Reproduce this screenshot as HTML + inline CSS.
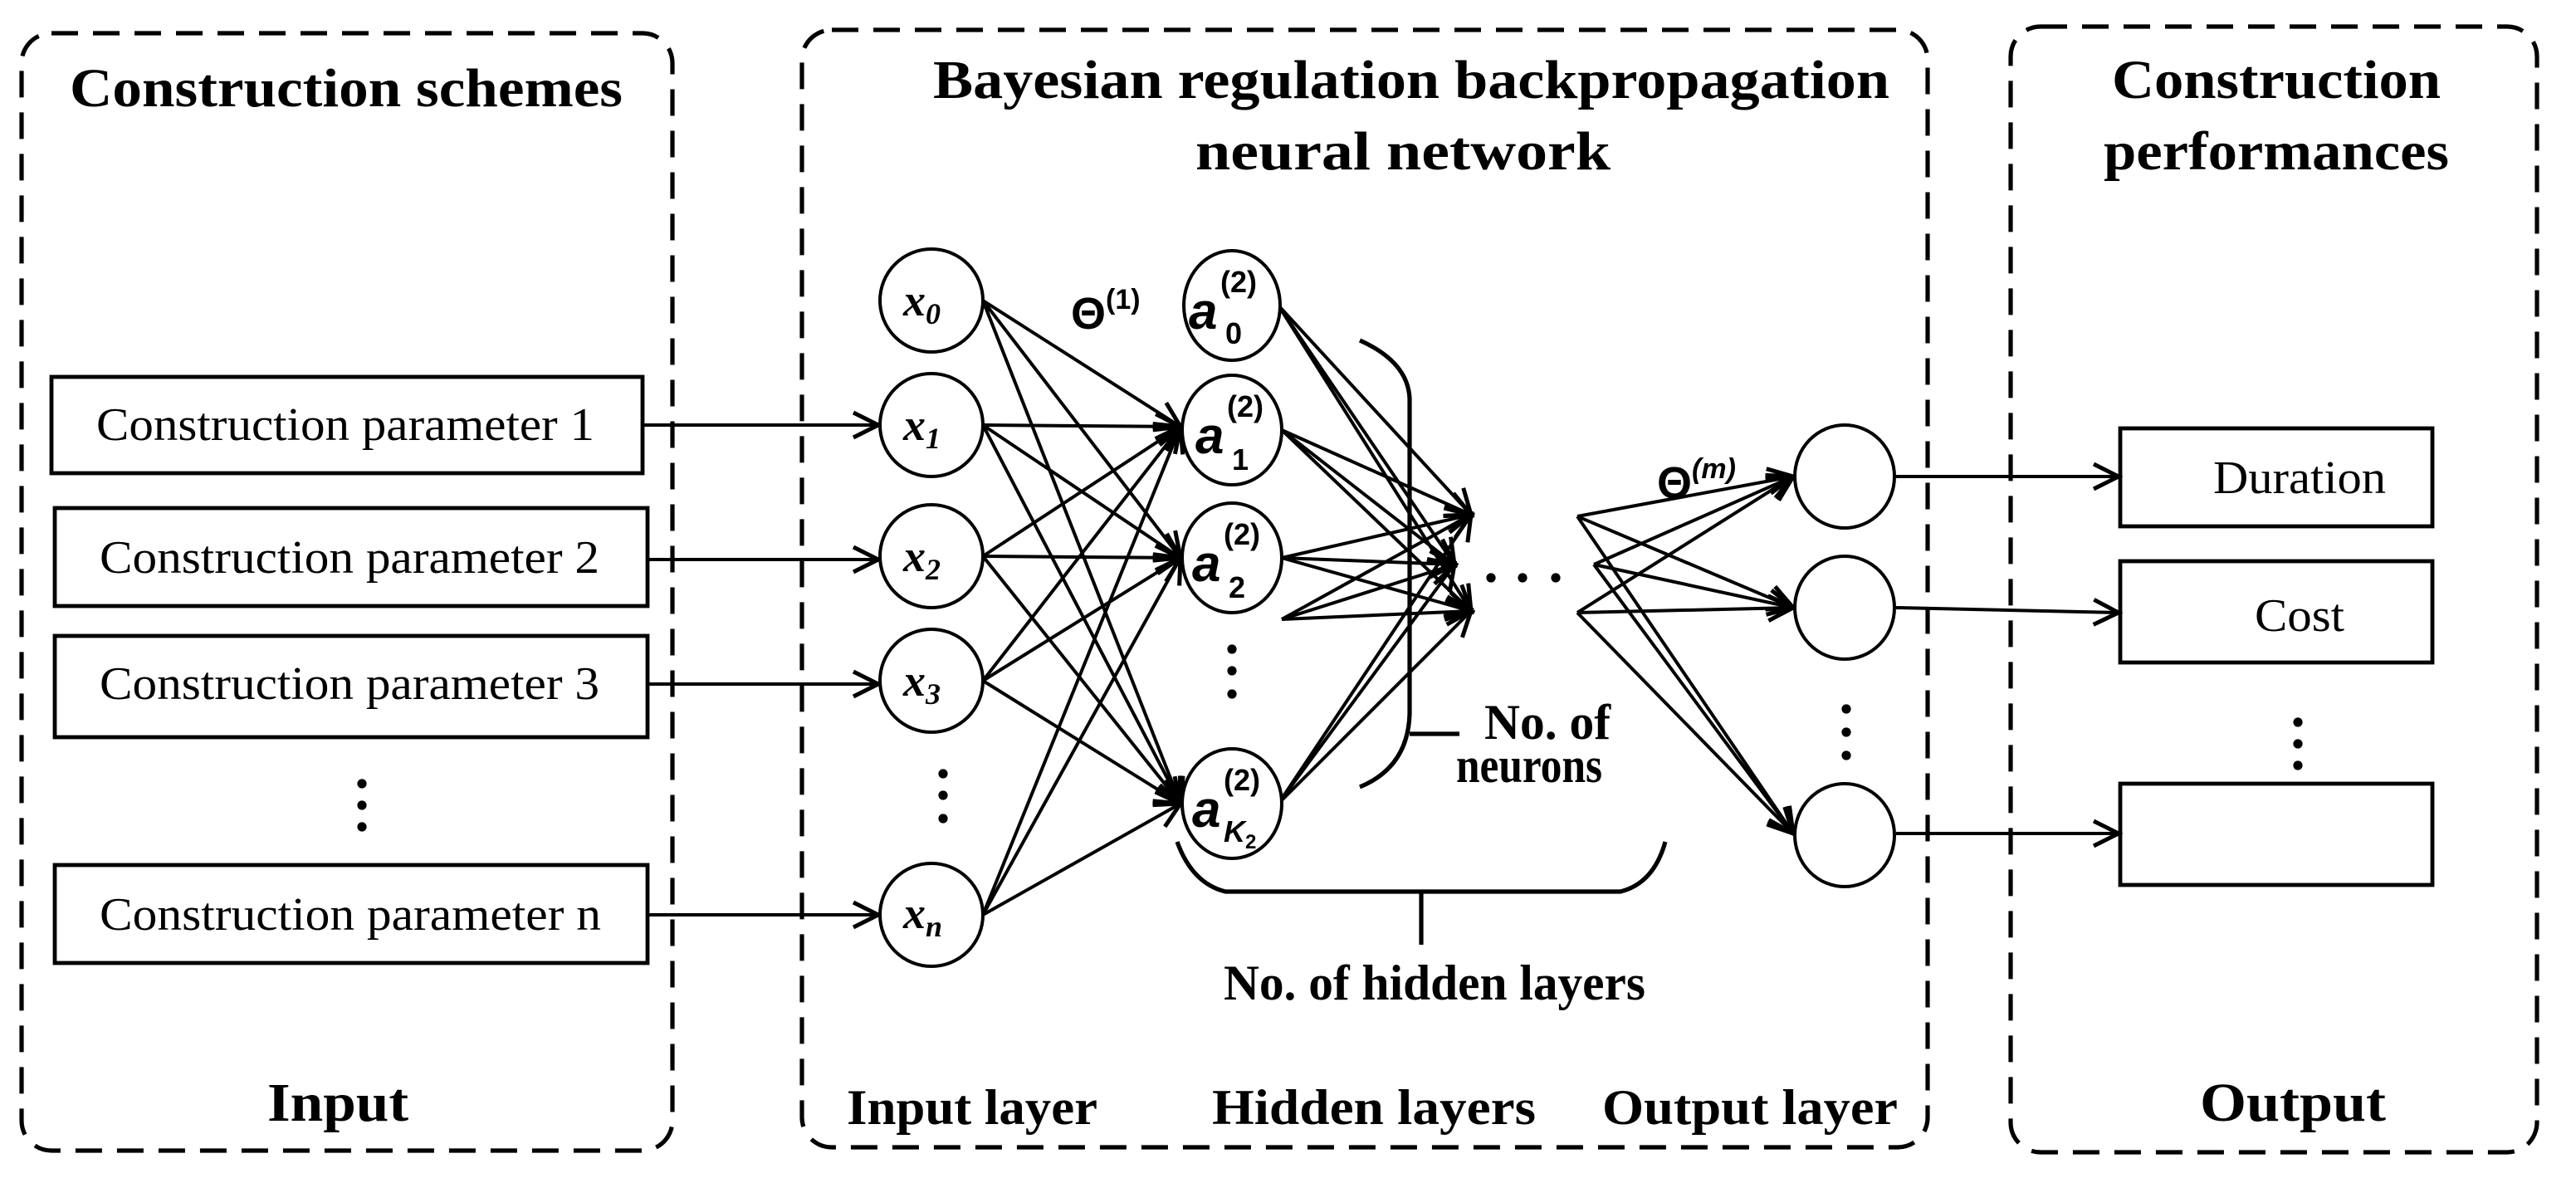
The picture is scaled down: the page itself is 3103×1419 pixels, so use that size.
<!DOCTYPE html>
<html><head><meta charset="utf-8"><style>
html,body{margin:0;padding:0;background:#fff;}
svg{display:block;}
text{fill:#000;}
.t{font-family:"Liberation Serif",serif;font-weight:bold;}
.r{font-family:"Liberation Serif",serif;}
.s{font-family:"Liberation Sans",sans-serif;font-weight:bold;}
</style></head><body>
<svg width="3103" height="1419" viewBox="0 0 1551.5 709.5" xmlns="http://www.w3.org/2000/svg">
<defs>
<marker id="ah" markerUnits="userSpaceOnUse" markerWidth="20" markerHeight="20" refX="14" refY="8" orient="auto" viewBox="0 0 16 16">
<path d="M2,2 L14,8 L2,14" fill="none" stroke="#000" stroke-width="2"/>
</marker>
</defs>
<rect width="1551.5" height="709.5" fill="#fff"/>
<g fill="none" stroke="#000" stroke-width="2.6" stroke-dasharray="16,9">
<rect x="13" y="20" width="392" height="673" rx="18"/>
<rect x="483" y="18" width="678" height="673" rx="18"/>
<rect x="1211" y="16" width="317" height="678" rx="18"/>
</g>
<text class="t" x="42" y="64" font-size="33" textLength="333" lengthAdjust="spacingAndGlyphs">Construction schemes</text>
<text class="t" x="562" y="59" font-size="33" textLength="576" lengthAdjust="spacingAndGlyphs">Bayesian regulation backpropagation</text>
<text class="t" x="720" y="102" font-size="33" textLength="250" lengthAdjust="spacingAndGlyphs">neural network</text>
<text class="t" x="1272" y="59" font-size="33" textLength="198" lengthAdjust="spacingAndGlyphs">Construction</text>
<text class="t" x="1267" y="102" font-size="33" textLength="208" lengthAdjust="spacingAndGlyphs">performances</text>
<g fill="none" stroke="#000" stroke-width="2.4">
<rect x="31" y="227" width="356" height="58"/>
<rect x="33" y="306" width="357" height="59"/>
<rect x="33" y="383" width="357" height="61"/>
<rect x="33" y="521" width="357" height="59"/>
<rect x="1277" y="258" width="188" height="59"/>
<rect x="1277" y="338" width="188" height="61"/>
<rect x="1277" y="472" width="188" height="61"/>
</g>
<g class="r" font-size="28">
<text x="58" y="265" textLength="300" lengthAdjust="spacingAndGlyphs">Construction parameter 1</text>
<text x="60" y="345" textLength="301" lengthAdjust="spacingAndGlyphs">Construction parameter 2</text>
<text x="60" y="421" textLength="301" lengthAdjust="spacingAndGlyphs">Construction parameter 3</text>
<text x="60" y="560" textLength="302" lengthAdjust="spacingAndGlyphs">Construction parameter n</text>
<text x="1333" y="297" textLength="104" lengthAdjust="spacingAndGlyphs">Duration</text>
<text x="1358" y="380" textLength="54" lengthAdjust="spacingAndGlyphs">Cost</text>
</g>
<g fill="#000">
<circle cx="218" cy="472" r="2.8"/><circle cx="218" cy="485" r="2.8"/><circle cx="218" cy="498" r="2.8"/>
<circle cx="568" cy="466" r="2.8"/><circle cx="568" cy="479" r="2.8"/><circle cx="568" cy="493" r="2.8"/>
<circle cx="742" cy="391" r="2.8"/><circle cx="742" cy="404" r="2.8"/><circle cx="742" cy="418" r="2.8"/>
<circle cx="898" cy="348" r="2.8"/><circle cx="917" cy="348" r="2.8"/><circle cx="937" cy="348" r="2.8"/>
<circle cx="1112" cy="427" r="2.8"/><circle cx="1112" cy="441" r="2.8"/><circle cx="1112" cy="455" r="2.8"/>
<circle cx="1384" cy="435" r="2.8"/><circle cx="1384" cy="448" r="2.8"/><circle cx="1384" cy="461" r="2.8"/>
</g>
<g stroke="#000" stroke-width="2" fill="none" marker-end="url(#ah)">
<line x1="387" y1="256" x2="529" y2="256"/>
<line x1="390" y1="337" x2="529" y2="337"/>
<line x1="390" y1="412" x2="529" y2="412"/>
<line x1="390" y1="551" x2="529" y2="551"/>
<line x1="1142" y1="287" x2="1276" y2="287"/>
<line x1="1142" y1="366" x2="1276" y2="369"/>
<line x1="1142" y1="502" x2="1276" y2="502"/>
<line x1="592" y1="181" x2="711" y2="257"/><line x1="592" y1="181" x2="711" y2="336"/><line x1="592" y1="181" x2="711" y2="484"/>
<line x1="592" y1="256" x2="711" y2="257"/><line x1="592" y1="256" x2="711" y2="336"/><line x1="592" y1="256" x2="711" y2="484"/>
<line x1="592" y1="335" x2="711" y2="257"/><line x1="592" y1="335" x2="711" y2="336"/><line x1="592" y1="335" x2="711" y2="484"/>
<line x1="592" y1="410" x2="711" y2="257"/><line x1="592" y1="410" x2="711" y2="336"/><line x1="592" y1="410" x2="711" y2="484"/>
<line x1="592" y1="551" x2="711" y2="257"/><line x1="592" y1="551" x2="711" y2="336"/><line x1="592" y1="551" x2="711" y2="484"/>
<line x1="770" y1="184" x2="886" y2="310"/><line x1="770" y1="184" x2="876" y2="340"/><line x1="770" y1="184" x2="886" y2="368"/>
<line x1="772" y1="259" x2="886" y2="310"/><line x1="772" y1="259" x2="876" y2="340"/><line x1="772" y1="259" x2="886" y2="368"/>
<line x1="772" y1="336" x2="886" y2="310"/><line x1="772" y1="336" x2="876" y2="340"/><line x1="772" y1="336" x2="886" y2="368"/>
<line x1="772" y1="373" x2="886" y2="310"/><line x1="772" y1="373" x2="876" y2="340"/><line x1="772" y1="373" x2="886" y2="368"/>
<line x1="770" y1="484" x2="886" y2="310"/><line x1="770" y1="484" x2="876" y2="340"/><line x1="770" y1="484" x2="886" y2="368"/>
<line x1="950" y1="311" x2="1080" y2="287"/><line x1="950" y1="311" x2="1080" y2="366"/><line x1="950" y1="311" x2="1080" y2="502"/>
<line x1="960" y1="340" x2="1080" y2="287"/><line x1="960" y1="340" x2="1080" y2="366"/><line x1="960" y1="340" x2="1080" y2="502"/>
<line x1="950" y1="369" x2="1080" y2="287"/><line x1="950" y1="369" x2="1080" y2="366"/><line x1="950" y1="369" x2="1080" y2="502"/>
</g>
<g fill="#fff" stroke="#000" stroke-width="2">
<ellipse cx="561" cy="181" rx="31" ry="31"/>
<ellipse cx="561" cy="256" rx="31" ry="31"/>
<ellipse cx="561" cy="335" rx="31" ry="31"/>
<ellipse cx="561" cy="410" rx="31" ry="31"/>
<ellipse cx="561" cy="551" rx="31" ry="31"/>
<ellipse cx="742" cy="184" rx="29" ry="33"/>
<ellipse cx="742" cy="259" rx="30" ry="33"/>
<ellipse cx="742" cy="336" rx="30" ry="33"/>
<ellipse cx="742" cy="484" rx="30" ry="33"/>
<ellipse cx="1111" cy="287" rx="30" ry="31"/>
<ellipse cx="1111" cy="366" rx="30" ry="31"/>
<ellipse cx="1111" cy="503" rx="30" ry="31"/>
</g>
<g font-family="Liberation Serif,serif" font-style="italic" font-weight="bold" font-size="27">
<text x="544" y="190">x<tspan font-size="18" dy="5">0</tspan></text>
<text x="544" y="265">x<tspan font-size="18" dy="5">1</tspan></text>
<text x="544" y="344">x<tspan font-size="18" dy="5">2</tspan></text>
<text x="544" y="419">x<tspan font-size="18" dy="5">3</tspan></text>
<text x="544" y="559">x<tspan font-size="18" dy="5">n</tspan></text>
</g>
<g class="s" font-size="31" font-style="italic">
<text x="716" y="198">a</text><text x="735" y="176" font-size="18" font-style="normal">(2)</text><text x="738" y="207" font-size="18" font-style="normal">0</text>
<text x="720" y="273">a</text><text x="739" y="251" font-size="18" font-style="normal">(2)</text><text x="742" y="283" font-size="18" font-style="normal">1</text>
<text x="718" y="350">a</text><text x="737" y="328" font-size="18" font-style="normal">(2)</text><text x="740" y="360" font-size="18" font-style="normal">2</text>
<text x="718" y="498">a</text><text x="737" y="476" font-size="18" font-style="normal">(2)</text><text x="737" y="507" font-size="18">K<tspan font-size="12" font-style="normal" dy="4">2</tspan></text>
</g>
<text class="s" x="645" y="198" font-size="27">Θ<tspan font-size="17" dy="-12">(1)</tspan></text>
<text class="s" x="998" y="300" font-size="27">Θ<tspan font-size="17" dy="-12" font-style="italic">(m)</tspan></text>
<g fill="none" stroke="#000" stroke-width="2.6">
<path d="M819,205 Q848,218 849,240 L849,430 Q848,462 819,474"/>
<line x1="849" y1="442" x2="879" y2="442"/>
<path d="M709,507 Q718,532 738,537 L976,537 Q996,532 1003,507"/>
<line x1="856" y1="537" x2="856" y2="569"/>
</g>
<g class="t" font-size="30">
<text x="894" y="445" textLength="76" lengthAdjust="spacingAndGlyphs">No. of</text>
<text x="877" y="471" textLength="88" lengthAdjust="spacingAndGlyphs">neurons</text>
<text x="737" y="602" textLength="254" lengthAdjust="spacingAndGlyphs">No. of hidden layers</text>
<text x="161" y="675" font-size="33" textLength="85" lengthAdjust="spacingAndGlyphs">Input</text>
<text x="510" y="677" textLength="151" lengthAdjust="spacingAndGlyphs">Input layer</text>
<text x="730" y="677" textLength="195" lengthAdjust="spacingAndGlyphs">Hidden layers</text>
<text x="965" y="677" textLength="178" lengthAdjust="spacingAndGlyphs">Output layer</text>
<text x="1325" y="675" font-size="33" textLength="112" lengthAdjust="spacingAndGlyphs">Output</text>
</g>
</svg>
</body></html>
